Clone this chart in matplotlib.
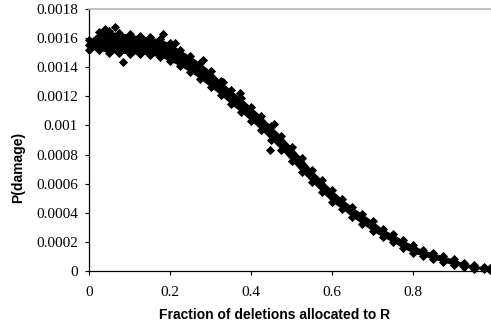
import matplotlib
matplotlib.use('Agg')
import matplotlib.pyplot as plt
import matplotlib.ticker as ticker

# fraction of deletions allocated to R
x_frac = [0.0, 0.025, 0.05, 0.075, 0.1, 0.125, 0.15, 0.175, 0.2, 0.225,
          0.25, 0.275, 0.3, 0.325, 0.35, 0.375, 0.4, 0.425, 0.45, 0.475,
          0.5, 0.525, 0.55, 0.575, 0.6, 0.625, 0.65, 0.675, 0.7, 0.725,
          0.75, 0.775, 0.8, 0.825, 0.85, 0.875, 0.9, 0.925, 0.95, 0.975, 0.99]

# upper edge, middle and lower edge of the point cloud
p_upper = [0.001587, 0.001642, 0.001649, 0.001635, 0.001628, 0.001614, 0.001608, 0.001594, 0.001566, 0.001518,
           0.001477, 0.001429, 0.001374, 0.001305, 0.001244, 0.001189, 0.001127, 0.001065, 0.000996, 0.000927,
           0.000852, 0.000776, 0.000694, 0.000625, 0.000556, 0.000495, 0.000440, 0.000392, 0.000344, 0.000289,
           0.000254, 0.000213, 0.000179, 0.000144, 0.000124, 0.000103, 0.000082, 0.000055, 0.000041, 0.000027, 0.000021]
p_mid = [0.001553, 0.001580, 0.001573, 0.001566, 0.001560, 0.001553, 0.001546, 0.001532, 0.001505, 0.001463,
         0.001422, 0.001374, 0.001319, 0.001257, 0.001195, 0.001140, 0.001079, 0.001017, 0.000948, 0.000879,
         0.000804, 0.000728, 0.000653, 0.000584, 0.000515, 0.000460, 0.000405, 0.000357, 0.000309, 0.000261,
         0.000227, 0.000185, 0.000151, 0.000124, 0.000103, 0.000082, 0.000062, 0.000041, 0.000027, 0.000021, 0.000014]
p_lower = [0.001518, 0.001518, 0.001498, 0.001498, 0.001491, 0.001491, 0.001484, 0.001470, 0.001443, 0.001408,
           0.001367, 0.001319, 0.001264, 0.001209, 0.001147, 0.001092, 0.001031, 0.000969, 0.000900, 0.000831,
           0.000756, 0.000680, 0.000611, 0.000543, 0.000474, 0.000426, 0.000371, 0.000323, 0.000275, 0.000234,
           0.000199, 0.000158, 0.000124, 0.000103, 0.000082, 0.000062, 0.000041, 0.000027, 0.000014, 0.000014, 0.000007]

# stray points sticking out of the band
out_x = [0.04, 0.064, 0.084, 0.183, 0.212, 0.281, 0.331, 0.373, 0.447, 0.457]
out_p = [0.001663, 0.001676, 0.001436, 0.001628, 0.001566, 0.00145, 0.001298, 0.001223, 0.000831, 0.00101]

x_ticks = [0, 0.2, 0.4, 0.6, 0.8]
y_ticks = [0, 0.0002, 0.0004, 0.0006, 0.0008, 0.001, 0.0012, 0.0014, 0.0016, 0.0018]


def excel_fmt(value, pos):
    return '%g' % round(value, 6)


fig = plt.figure(figsize=(4.91, 3.27), dpi=100)
ax = fig.add_axes([89 / 491, 56 / 327, 405 / 491, 262 / 327])

ax.fill_between(x_frac, p_lower, p_upper, color='black', lw=0, clip_on=False)
for series in (p_upper, p_mid, p_lower):
    ax.plot(x_frac, series, 'D', color='black', ms=4.0, mew=0.6, clip_on=False)
ax.plot(out_x, out_p, 'D', color='black', ms=4.0, mew=0.6, clip_on=False)

ax.set_xlim(0, 1.0)
ax.set_ylim(0, 0.0018)
ax.set_xticks(x_ticks)
ax.set_yticks(y_ticks)
ax.xaxis.set_major_formatter(ticker.FuncFormatter(excel_fmt))
ax.yaxis.set_major_formatter(ticker.FuncFormatter(excel_fmt))
ax.tick_params(direction='out', length=3, width=0.8, labelsize=11, colors='black')
ax.tick_params(axis='x', pad=8)
ax.tick_params(axis='y', pad=5)
for lab in ax.get_xticklabels() + ax.get_yticklabels():
    lab.set_family('Liberation Serif')

ax.spines['top'].set_color('#bbbbbb')
ax.spines['top'].set_linewidth(1.3)
ax.spines['right'].set_visible(False)
ax.spines['left'].set_linewidth(0.9)
ax.spines['bottom'].set_linewidth(0.9)

ax.set_xlabel('Fraction of deletions allocated to R', family='Liberation Sans',
              weight='bold', size=10)
ax.xaxis.set_label_coords(0.457, -0.14)
ax.set_ylabel('P(damage)', family='Liberation Sans', weight='bold', size=10)
ax.yaxis.set_label_coords(-0.158, 0.397)

fig.savefig('out.png', dpi=100)
